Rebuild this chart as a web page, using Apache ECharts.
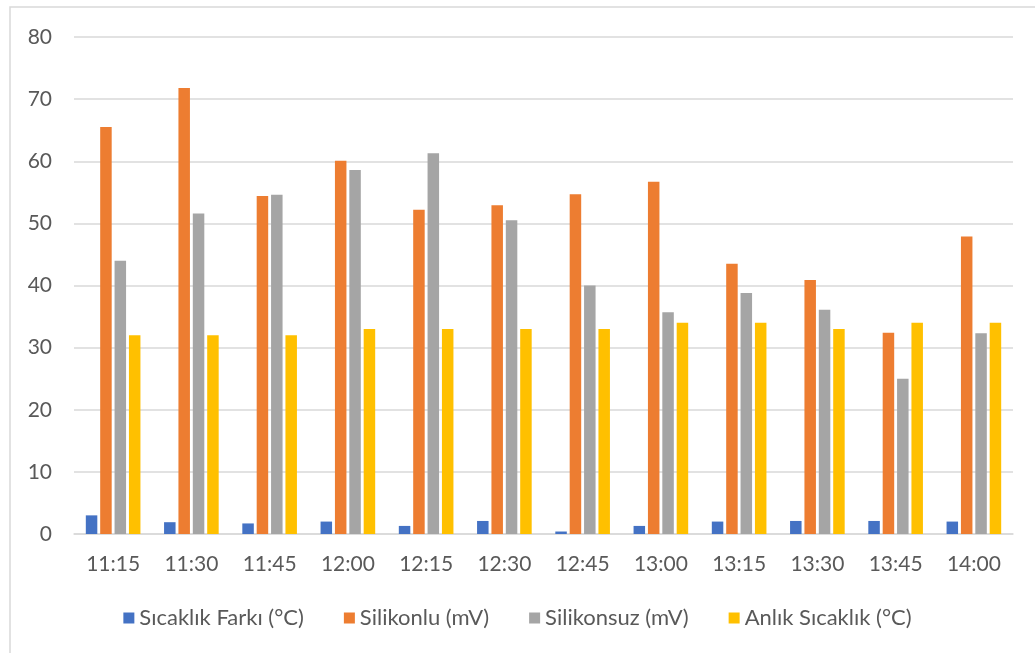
<!DOCTYPE html>
<html>
<head>
<meta charset="utf-8">
<script src="https://cdn.jsdelivr.net/npm/echarts@6/dist/echarts.min.js"></script>
<style>
html,body{margin:0;padding:0;background:#fff;}
#c{width:1035px;height:653px;}
</style>
</head>
<body>
<div id="c"></div>
<script>
const categories = ['11:15','11:30','11:45','12:00','12:15','12:30','12:45','13:00','13:15','13:30','13:45','14:00'];
const seriesNames = ['Sıcaklık Farkı (°C)','Silikonlu (mV)','Silikonsuz (mV)','Anlık Sıcaklık (°C)'];
const sicaklikFarki = [3.0, 1.9, 1.7, 2.0, 1.3, 2.1, 0.4, 1.3, 2.0, 2.1, 2.1, 2.0];
const silikonlu = [65.5, 71.8, 54.4, 60.1, 52.2, 52.9, 54.7, 56.7, 43.5, 40.9, 32.4, 47.9];
const silikonsuz = [44.0, 51.6, 54.6, 58.6, 61.3, 50.5, 40.0, 35.7, 38.8, 36.1, 25.0, 32.3];
const anlikSicaklik = [32, 32, 32, 33, 33, 33, 33, 34, 34, 33, 34, 34];
const yTicks = {min: 0, max: 80, interval: 10};

const colors = ['#4472C4','#ED7D31','#A5A5A5','#FFC000'];
const font = 'Lato, "Open Sans", sans-serif';
const allData = [sicaklikFarki, silikonlu, silikonsuz, anlikSicaklik];

const chart = echarts.init(document.getElementById('c'), null, {renderer: 'canvas'});
chart.setOption({
  animation: false,
  backgroundColor: '#fff',
  color: colors,
  graphic: [{
    type: 'rect',
    shape: {x: 10, y: 7, width: 1040, height: 670},
    style: {fill: 'none', stroke: '#d9d9d9', lineWidth: 1.5},
    silent: true
  }],
  grid: {left: 74, right: 22, top: 37, bottom: 119},
  legend: {
    bottom: 19,
    left: 'center',
    icon: 'rect',
    itemWidth: 11,
    itemHeight: 11,
    itemGap: 40,
    textStyle: {fontFamily: font, fontSize: 22, color: '#595959'},
    data: seriesNames
  },
  xAxis: {
    type: 'category',
    data: categories,
    axisLine: {lineStyle: {color: '#d9d9d9', width: 1.5}},
    axisTick: {show: false},
    axisLabel: {fontFamily: font, fontSize: 21, color: '#595959', margin: 20}
  },
  yAxis: {
    type: 'value',
    min: yTicks.min,
    max: yTicks.max,
    interval: yTicks.interval,
    axisLine: {show: false},
    axisTick: {show: false},
    axisLabel: {fontFamily: font, fontSize: 21, color: '#595959', margin: 22},
    splitLine: {lineStyle: {color: '#d9d9d9', width: 1.5}}
  },
  series: seriesNames.map((n, i) => ({
    name: n,
    type: 'bar',
    data: allData[i],
    barWidth: 11.5,
    barGap: '25%',
    itemStyle: {color: colors[i]}
  }))
});
</script>
</body>
</html>
